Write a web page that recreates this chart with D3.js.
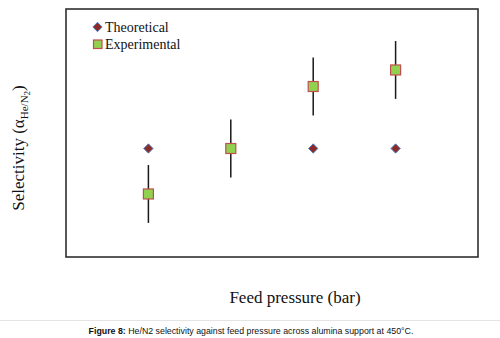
<!DOCTYPE html>
<html>
<head>
<meta charset="utf-8">
<script src="https://cdn.jsdelivr.net/npm/d3@7"></script>
<style>
  html, body { margin: 0; padding: 0; background: #fff; }
  svg { display: block; }
</style>
</head>
<body>
<svg id="chart" width="500" height="338"></svg>
<script>
// feed pressure (bar) and He/N2 selectivity
const pressures = [1, 2, 3, 4];
const theoretical = [2.65, 2.65, 2.65, 2.65];
const experimental = [2.21, 2.65, 3.25, 3.41];
const expError = [0.28, 0.28, 0.28, 0.28];
const legendLabels = ['Theoretical', 'Experimental'];

const svg = d3.select('#chart');
const frame = { left: 66, top: 9, right: 478, bottom: 257 };

const x = d3.scaleLinear().domain([0, 5]).range([frame.left, frame.right]);
const y = d3.scaleLinear().domain([1.6, 4]).range([frame.bottom, frame.top]);

// plot frame
svg.append('rect')
    .attr('x', frame.left).attr('y', frame.top)
    .attr('width', frame.right - frame.left).attr('height', frame.bottom - frame.top)
    .attr('fill', 'none').attr('stroke', '#222').attr('stroke-width', 1.5);

const diamond = d3.symbol().type(d3.symbolDiamond2).size(55);

// error bars
svg.append('g').selectAll('line')
    .data(pressures)
    .join('line')
    .attr('x1', d => x(d)).attr('x2', d => x(d))
    .attr('y1', (d, i) => y(experimental[i] - expError[i]))
    .attr('y2', (d, i) => y(experimental[i] + expError[i]))
    .attr('stroke', '#1a1a1a').attr('stroke-width', 1.5);

// theoretical points
svg.append('g').selectAll('path')
    .data(pressures)
    .join('path')
    .attr('d', diamond)
    .attr('transform', (d, i) => 'translate(' + x(d) + ',' + y(theoretical[i]) + ')')
    .attr('fill', '#8b2a2a').attr('stroke', '#4f81bd').attr('stroke-width', 1);

// experimental points
svg.append('g').selectAll('rect')
    .data(pressures)
    .join('rect')
    .attr('x', d => x(d) - 5).attr('y', (d, i) => y(experimental[i]) - 5)
    .attr('width', 10).attr('height', 10)
    .attr('fill', '#92d050').attr('stroke', '#c0504d').attr('stroke-width', 1.2);

// legend
const legend = svg.append('g').attr('font-family', 'Liberation Serif, serif').attr('font-size', 14).attr('fill', '#111');
legend.append('path').attr('d', diamond).attr('transform', 'translate(97.5,27)')
    .attr('fill', '#8b2a2a').attr('stroke', '#4f81bd').attr('stroke-width', 1);
legend.append('rect').attr('x', 93.5).attr('y', 40).attr('width', 8.5).attr('height', 8.5)
    .attr('fill', '#92d050').attr('stroke', '#c0504d').attr('stroke-width', 1.2);
legend.selectAll('text')
    .data(legendLabels)
    .join('text')
    .attr('x', 105).attr('y', (d, i) => 31.5 + i * 17)
    .text(d => d);

// axis titles
svg.append('text')
    .attr('x', 295).attr('y', 303)
    .attr('text-anchor', 'middle')
    .attr('font-family', 'Liberation Serif, serif').attr('font-size', 17).attr('fill', '#111')
    .text('Feed pressure (bar)');

const yTitle = svg.append('text')
    .attr('transform', 'translate(24,148) rotate(-90)')
    .attr('text-anchor', 'middle')
    .attr('font-family', 'Liberation Serif, serif').attr('font-size', 17).attr('fill', '#111');
yTitle.append('tspan').text('Selectivity (α');
yTitle.append('tspan').attr('font-size', 11).attr('dy', 4).text('He/N');
yTitle.append('tspan').attr('font-size', 9).attr('dy', 2).text('2');
yTitle.append('tspan').attr('dy', -6).text(')');

// caption
svg.append('line').attr('x1', 0).attr('x2', 500).attr('y1', 320.5).attr('y2', 320.5)
    .attr('stroke', '#e4e4e4').attr('stroke-width', 1);
const caption = svg.append('text')
    .attr('x', 251).attr('y', 334)
    .attr('text-anchor', 'middle')
    .attr('font-family', 'Liberation Sans, Arial, sans-serif').attr('font-size', 8.8).attr('fill', '#111');
caption.append('tspan').attr('font-weight', 'bold').text('Figure 8:');
caption.append('tspan').text(' He/N2 selectivity against feed pressure across alumina support at 450°C.');
</script>
</body>
</html>
